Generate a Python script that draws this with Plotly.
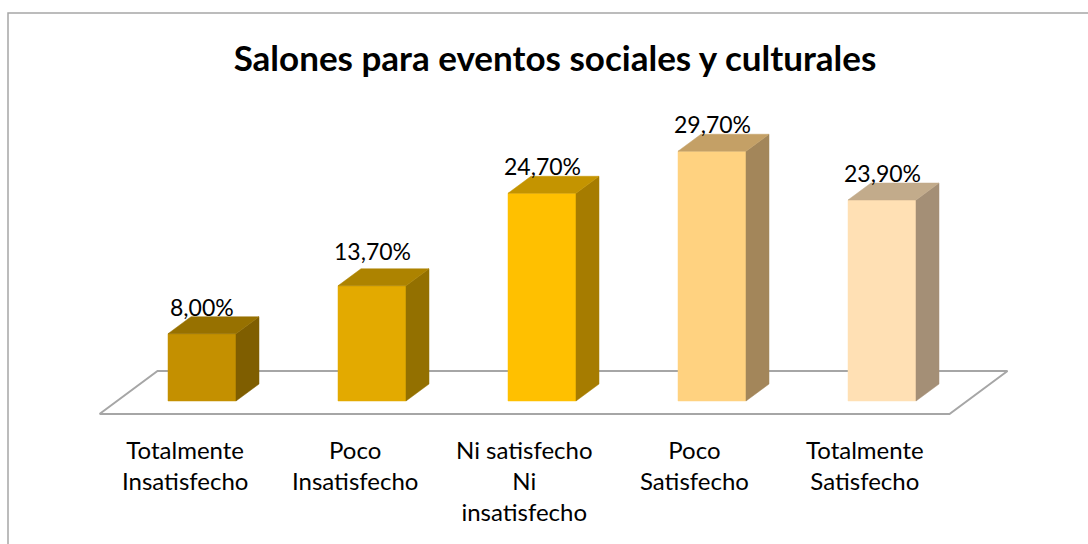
import plotly.graph_objects as go

# Survey results: satisfaction with rooms for social and cultural events
categories = [
    "Totalmente<br>Insatisfecho",
    "Poco<br>Insatisfecho",
    "Ni satisfecho<br>Ni<br>insatisfecho",
    "Poco<br>Satisfecho",
    "Totalmente<br>Satisfecho",
]
values = [8.0, 13.7, 24.7, 29.7, 23.9]

front_colors = ["#C49000", "#E3AA00", "#FFC000", "#FFD280", "#FFE0B4"]
side_colors = ["#7F5E00", "#937000", "#A67C00", "#A3865A", "#A48F76"]
top_colors = ["#977100", "#AD8300", "#C49400", "#C4A066", "#C2AB8B"]

# extra vertical lift of each value label, in px
label_lift = [0, 8, 0, 0, 0]

title = "Salones para eventos sociales y culturales"
FONT = "Lato"

# pixel scale of the drawing (px per category step, px per percent)
PX_X = 170.0
PX_Y = 8.41
W, H = 1088, 544
X0_PX, Y0_PX = 202.0, 401.0  # pixel position of category 0 / 0 %

half_w = 34 / PX_X          # half bar width
dx = 23 / PX_X              # bar depth (oblique offset)
dy = 17 / PX_Y
fdx = 58 / PX_X             # floor depth
fdy = 43 / PX_Y
n = len(values)


def face(xs, ys, color):
    return go.Scatter(
        x=xs, y=ys, mode="lines", fill="toself", fillcolor=color,
        line=dict(width=0.5, color=color), hoverinfo="skip", showlegend=False,
    )


fig = go.Figure()

# floor of the 3-D plot area
cx = dx / 2  # depth centre of bars
fy0 = dy / 2 - fdy / 2
fx0 = -0.5 + cx - fdx / 2
fx1 = n - 0.5 + cx - fdx / 2
fig.add_trace(go.Scatter(
    x=[fx0, fx1, fx1 + fdx, fx0 + fdx, fx0],
    y=[fy0, fy0, fy0 + fdy, fy0 + fdy, fy0],
    mode="lines", line=dict(color="#A6A6A6", width=2),
    hoverinfo="skip", showlegend=False,
))

for i, v in enumerate(values):
    xr = i + half_w
    xl = i - half_w
    # front face
    fig.add_trace(face([xl, xr, xr, xl, xl], [0, 0, v, v, 0], front_colors[i]))
    # right side face
    fig.add_trace(face([xr, xr + dx, xr + dx, xr, xr], [0, dy, v + dy, v, 0], side_colors[i]))
    # top face
    fig.add_trace(face([xl, xr, xr + dx, xl + dx, xl], [v, v, v + dy, v + dy, v], top_colors[i]))
    # value label
    fig.add_annotation(
        x=i, y=v + dy, text=f"{v:.2f}".replace(".", ",") + "%",
        showarrow=False, yanchor="middle", yshift=10 + label_lift[i],
        font=dict(family=FONT, size=23, color="#000000"),
    )
    # category label under the floor
    fig.add_annotation(
        x=i + cx - fdx / 2, y=fy0, text=categories[i],
        showarrow=False, yanchor="top", yshift=-19,
        font=dict(family=FONT, size=24, color="#000000"),
    )

fig.update_layout(
    width=W, height=H,
    margin=dict(l=0, r=0, t=0, b=0),
    paper_bgcolor="white", plot_bgcolor="white",
    xaxis=dict(range=[-X0_PX / PX_X, (W - X0_PX) / PX_X], visible=False, fixedrange=True),
    yaxis=dict(range=[-(H - Y0_PX) / PX_Y, Y0_PX / PX_Y], visible=False, fixedrange=True),
    title=dict(text=f"<b>{title}</b>", x=555 / W, xanchor="center", y=1 - 59 / H, yanchor="middle",
               font=dict(family=FONT, size=35, color="#000000")),
    shapes=[dict(type="rect", xref="paper", yref="paper",
                 x0=8 / W, x1=1.02, y0=-0.05, y1=1 - 13 / H,
                 line=dict(color="#A6A6A6", width=1.5), layer="below")],
)

fig.write_html("out.html")
